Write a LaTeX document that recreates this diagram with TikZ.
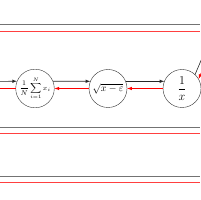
\documentclass[tikz,border=0pt]{standalone}
\usepackage{amsmath}
\begin{document}
\begin{tikzpicture}[
    x=1pt, y=-1pt,
    opnode/.style={circle, draw=black!80, minimum size=38pt, inner sep=0pt},
    fwd/.style={->, >=latex, black!85, semithick},
    bwd/.style={->, >=latex, red, semithick},
    fwdline/.style={black!55, semithick},
    bwdline/.style={red!75, semithick}
  ]
    \useasboundingbox (0,0) rectangle (200,200);
    % middle row: mean, square root, inverse
    \node[opnode] (mean)  at ( 35, 88.5) {\scriptsize $\displaystyle\frac{1}{N}\sum_{i=1}^{N} x_i$};
    \node[opnode] (sqrtv) at (108, 88.5) {$\sqrt{x-\varepsilon}$};
    \node[opnode] (inv)   at (182, 88.5) {\large $\dfrac{1}{x}$};
    % free ends at the edges of the picture
    \coordinate (inL)  at (0, 81.4);
    \coordinate (outL) at (0, 88.5);
    \coordinate (upR)  at ([shift={(-67:30)}]inv.47);
    \coordinate (dnR)  at ([shift={(-67:30)}]inv.30);
    % forward pass (black)
    \draw[fwd] (inL) -- (mean.158);
    \draw[fwd] (mean.22) -- (sqrtv.158);
    \draw[fwd] (sqrtv.22) -- (inv.158);
    \draw[fwd, -] (inv.47) -- (upR);
    % backward pass (red)
    \draw[bwd] (dnR) -- (inv.30);
    \draw[bwd] (inv.180) -- (sqrtv.0);
    \draw[bwd] (sqrtv.180) -- (mean.0);
    \draw[bwd, -] (mean.180) -- (outL);
    % long lines across the picture
    \foreach \i/\yb/\yr in {a/24/31, b/127/133, c/176/182} {
      \coordinate (\i-bl) at (0,\yb);
      \coordinate (\i-br) at (200,\yb);
      \coordinate (\i-rl) at (0,\yr);
      \coordinate (\i-rr) at (200,\yr);
      \draw[fwdline] (\i-bl) -- (\i-br);
      \draw[bwdline] (\i-rl) -- (\i-rr);
    }
  \end{tikzpicture}
\end{document}
